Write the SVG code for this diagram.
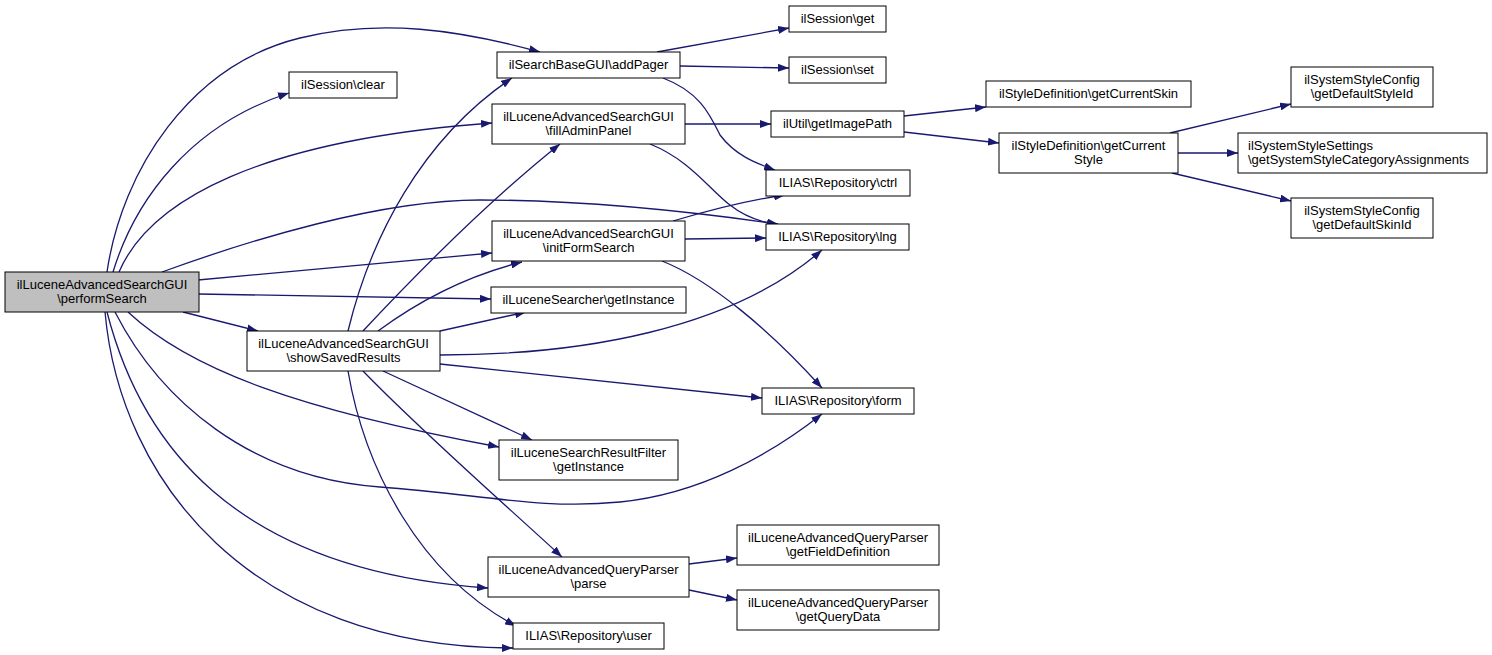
<svg xmlns="http://www.w3.org/2000/svg" width="1492" height="655" viewBox="0 0 1492 655">
<style>
.n rect{fill:#fff;stroke:#000;stroke-width:1}
.n.hl rect{fill:#bfbfbf}
.n text{font-family:"Liberation Sans",Arial,sans-serif;font-size:13px;fill:#000;text-anchor:middle}
.n text.l{text-anchor:start}
#edges path{fill:none;stroke:#191970;stroke-width:1.3;marker-end:url(#ah)}
</style>
<defs>
<marker id="ah" markerUnits="userSpaceOnUse" viewBox="0 0 11 8" markerWidth="11" markerHeight="8" refX="11" refY="4" orient="auto">
<polygon points="0,0 11,4 0,8" fill="#191970"/>
</marker>
</defs>
<rect width="1492" height="655" fill="#fff"/>
<g id="edges">
<path d="M107,272 C122,170 190,65 300,38 C380,18 460,30 540,52"/>
<path d="M113,272 C135,200 190,125 289,93"/>
<path d="M119,272 C150,200 260,140 492,123"/>
<path d="M162,272 C250,240 380,200 480,200 C580,200 680,210 778,224"/>
<path d="M198,280 L492,253"/>
<path d="M198,294 L491,299"/>
<path d="M183,312 L258,331"/>
<path d="M128,312 C190,370 300,410 499,447"/>
<path d="M115,312 C160,400 250,478 380,487 C480,494 540,510 620,502 C700,494 770,455 822,414"/>
<path d="M107,312 C140,440 230,570 488,588"/>
<path d="M105,312 C120,480 250,648 513,648"/>
<path d="M348,331 C370,240 420,140 512,78"/>
<path d="M363,331 C420,270 490,200 560,144"/>
<path d="M378,331 C420,300 470,275 522,262"/>
<path d="M440,331 L526,312"/>
<path d="M440,355 C580,355 730,330 822,250"/>
<path d="M440,364 L762,398"/>
<path d="M383,371 L532,440"/>
<path d="M363,371 C420,430 500,500 562,557"/>
<path d="M348,371 C365,470 420,575 516,626"/>
<path d="M657,52 L789,28"/>
<path d="M680,66 L789,68"/>
<path d="M663,78 C700,92 710,115 720,135 C735,155 755,163 775,170"/>
<path d="M685,124 L771,124"/>
<path d="M650,144 C690,160 710,190 730,205 C745,217 760,222 778,225"/>
<path d="M673,221 C710,210 750,200 785,195"/>
<path d="M685,239 L766,238"/>
<path d="M662,261 C710,280 770,330 822,388"/>
<path d="M904,116 L986,107"/>
<path d="M904,132 L999,143"/>
<path d="M1170,133 L1291,104"/>
<path d="M1178,153 L1238,153"/>
<path d="M1172,173 L1291,201"/>
<path d="M689,564 L737,558"/>
<path d="M689,590 L737,600"/>
</g>
<g id="performSearch" class="n hl"><rect x="5" y="272" width="194" height="40"/><text x="102" y="289">ilLuceneAdvancedSearchGUI</text><text x="102" y="303">\performSearch</text></g>
<g id="addPager" class="n"><rect x="497" y="52" width="183" height="26"/><text x="588.5" y="69">ilSearchBaseGUI\addPager</text></g>
<g id="sessionClear" class="n"><rect x="289" y="72" width="108" height="26"/><text x="343" y="89">ilSession\clear</text></g>
<g id="fillAdminPanel" class="n"><rect x="492" y="104" width="193" height="40"/><text x="588.5" y="121">ilLuceneAdvancedSearchGUI</text><text x="588.5" y="135">\fillAdminPanel</text></g>
<g id="initFormSearch" class="n"><rect x="492" y="221" width="193" height="40"/><text x="588.5" y="238">ilLuceneAdvancedSearchGUI</text><text x="588.5" y="252">\initFormSearch</text></g>
<g id="searcherGetInstance" class="n"><rect x="491" y="287" width="195" height="26"/><text x="588.5" y="304">ilLuceneSearcher\getInstance</text></g>
<g id="showSavedResults" class="n"><rect x="247" y="331" width="193" height="40"/><text x="343.5" y="348">ilLuceneAdvancedSearchGUI</text><text x="343.5" y="362">\showSavedResults</text></g>
<g id="filterGetInstance" class="n"><rect x="499" y="440" width="179" height="40"/><text x="588.5" y="457">ilLuceneSearchResultFilter</text><text x="588.5" y="471">\getInstance</text></g>
<g id="parse" class="n"><rect x="488" y="557" width="201" height="40"/><text x="588.5" y="574">ilLuceneAdvancedQueryParser</text><text x="588.5" y="588">\parse</text></g>
<g id="user" class="n"><rect x="513" y="623" width="151" height="26"/><text x="588.5" y="640">ILIAS\Repository\user</text></g>
<g id="sessionGet" class="n"><rect x="789" y="6" width="97" height="26"/><text x="837.5" y="23">ilSession\get</text></g>
<g id="sessionSet" class="n"><rect x="789" y="57" width="97" height="26"/><text x="837.5" y="74">ilSession\set</text></g>
<g id="getImagePath" class="n"><rect x="771" y="111" width="133" height="26"/><text x="837.5" y="128">ilUtil\getImagePath</text></g>
<g id="ctrl" class="n"><rect x="766" y="170" width="144" height="26"/><text x="838" y="187">ILIAS\Repository\ctrl</text></g>
<g id="lng" class="n"><rect x="766" y="224" width="143" height="26"/><text x="837.5" y="241">ILIAS\Repository\lng</text></g>
<g id="form" class="n"><rect x="762" y="388" width="152" height="26"/><text x="838" y="405">ILIAS\Repository\form</text></g>
<g id="getFieldDefinition" class="n"><rect x="737" y="525" width="202" height="40"/><text x="838" y="542">ilLuceneAdvancedQueryParser</text><text x="838" y="556">\getFieldDefinition</text></g>
<g id="getQueryData" class="n"><rect x="737" y="590" width="202" height="40"/><text x="838" y="607">ilLuceneAdvancedQueryParser</text><text x="838" y="621">\getQueryData</text></g>
<g id="getCurrentSkin" class="n"><rect x="986" y="81" width="205" height="26"/><text x="1088.5" y="98">ilStyleDefinition\getCurrentSkin</text></g>
<g id="getCurrentStyle" class="n"><rect x="999" y="133" width="179" height="40"/><text x="1088.5" y="150">ilStyleDefinition\getCurrent</text><text x="1088.5" y="164">Style</text></g>
<g id="getDefaultStyleId" class="n"><rect x="1291" y="67" width="142" height="40"/><text x="1362" y="84">ilSystemStyleConfig</text><text x="1362" y="98">\getDefaultStyleId</text></g>
<g id="getSystemStyleCategoryAssignments" class="n"><rect x="1238" y="133" width="249" height="40"/><text class="l" x="1248" y="150">ilSystemStyleSettings</text><text class="l" x="1248" y="164">\getSystemStyleCategoryAssignments</text></g>
<g id="getDefaultSkinId" class="n"><rect x="1291" y="198" width="142" height="40"/><text x="1362" y="215">ilSystemStyleConfig</text><text x="1362" y="229">\getDefaultSkinId</text></g>
</svg>
